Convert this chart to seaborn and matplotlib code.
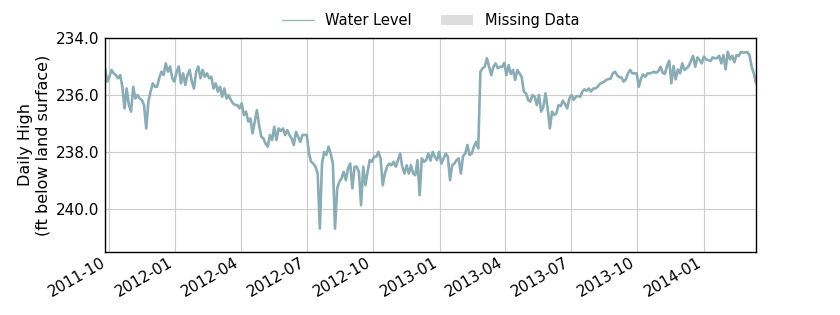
import numpy as np
import pandas as pd
import matplotlib
matplotlib.use("Agg")
import matplotlib.pyplot as plt
import matplotlib.dates as mdates
from matplotlib.lines import Line2D
from matplotlib.patches import Patch
import seaborn as sns

# Daily-high water level (ft below land surface), sampled every 3 days
start_date = "2011-09-26"
step = "3D"

level_2011q4_2012q1 = [
    235.06, 235.53, 235.36, 235.12, 235.24, 235.30, 235.41, 235.30, 235.71, 236.47,
    235.77, 236.35, 236.58, 235.71, 236.12, 236.00, 236.12, 236.18, 236.35, 237.17,
    236.23, 235.88, 235.59, 235.71, 235.71, 235.41, 235.18, 235.30, 234.89, 235.18,
    235.00, 235.41, 235.53, 235.18, 235.00, 235.59, 235.24, 235.65, 235.30, 235.12,
    235.53, 235.77, 235.18, 235.00, 235.41, 235.12, 235.36, 235.24, 235.41, 235.36,
]
level_2012q2_q3 = [
    235.77, 235.59, 235.88, 235.71, 236.06, 235.77, 236.12, 236.00, 236.18, 236.29,
    236.35, 236.35, 236.47, 236.29, 236.70, 236.58, 236.93, 236.82, 237.34, 236.93,
    236.53, 237.05, 237.46, 237.52, 237.70, 237.81, 237.40, 237.58, 237.11, 237.58,
    237.17, 237.26, 237.17, 237.40, 237.23, 237.40, 237.52, 237.75, 237.29, 237.46,
    237.64, 237.40, 237.40, 237.40, 238.05, 238.34, 238.40, 238.51, 238.75, 240.68,
    238.40, 237.99, 238.10, 237.81, 238.05, 238.40, 240.68, 239.27, 239.04, 238.92,
]
level_2012q4_2013q1 = [
    238.69, 238.98, 238.57, 238.40, 239.27, 238.51, 238.51, 238.69, 239.86, 238.51,
    239.16, 238.69, 238.28, 238.34, 238.16, 238.16, 237.99, 238.22, 239.16, 238.75,
    238.51, 238.40, 238.46, 238.34, 238.51, 238.28, 238.05, 238.51, 238.75, 238.46,
    238.75, 238.46, 238.75, 238.81, 238.28, 239.51, 238.22, 238.34, 238.28, 238.05,
    238.30, 237.99, 238.16, 238.28, 237.99, 238.40, 238.22, 238.05, 238.16, 238.98,
    238.46, 238.40, 238.28, 238.22, 238.75, 238.14, 238.05, 237.75, 238.10, 238.05,
    237.81, 237.64, 237.87,
]
level_2013q2_q3 = [
    235.18, 235.06, 235.01, 234.71, 235.01, 235.30, 235.01, 234.89, 235.06, 235.01,
    235.01, 234.87, 235.30, 234.95, 235.26, 235.12, 235.47, 235.12, 235.24, 235.36,
    235.88, 235.94, 236.17, 236.23, 236.00, 236.06, 236.35, 236.00, 236.58, 236.41,
    235.94, 236.47, 237.17, 236.58, 236.70, 236.64, 236.35, 236.39, 236.20, 236.32,
    236.47, 236.12, 236.00, 236.17, 236.06, 236.03, 236.06, 235.88, 235.80, 235.85,
    235.77,
]
level_2013q4_2014q1 = [
    235.88, 235.77, 235.77, 235.71, 235.61, 235.57, 235.53, 235.47, 235.44, 235.42,
    235.24, 235.18, 235.30, 235.38, 235.38, 235.53, 235.45, 235.24, 235.12, 235.24,
    235.24, 235.24, 235.71, 235.42, 235.28, 235.36, 235.24, 235.24, 235.22, 235.18,
    235.22, 235.16, 235.01, 235.22, 235.26, 234.98, 234.80, 235.59, 234.98, 235.45,
    235.10, 235.24, 234.89, 235.12, 235.06, 234.98, 234.81, 234.63, 235.01, 234.68,
    234.77, 234.89, 234.65, 234.75, 234.77, 234.81, 234.68, 234.71, 234.71, 234.62,
    234.89, 234.60, 235.10, 234.48, 234.75, 234.62, 234.85, 234.60, 234.63, 234.49,
    234.51, 234.51, 234.49, 234.60, 235.01, 235.24, 235.59,
]

y_ticks = [234.0, 236.0, 238.0, 240.0]
y_limits = (241.5, 234.0)
legend_labels = ["Water Level", "Missing Data"]
y_label = "Daily High\n(ft below land surface)"

levels = (level_2011q4_2012q1 + level_2012q2_q3 + level_2012q4_2013q1
          + level_2013q2_q3 + level_2013q4_2014q1)
dates = pd.date_range(start_date, periods=len(levels), freq=step)
df = pd.DataFrame({"date": dates, "level": levels})

line_color = "#8AACB4"

sns.set_style("white")
plt.rcParams["font.family"] = ["DejaVu Sans"]
plt.rcParams["text.color"] = "black"
plt.rcParams["axes.labelcolor"] = "black"
plt.rcParams["xtick.color"] = "black"
plt.rcParams["ytick.color"] = "black"

fig = plt.figure(figsize=(8.4, 3.15), dpi=100)
ax = fig.add_axes([0.125, 0.2, 0.775, 0.6794])

sns.lineplot(data=df, x="date", y="level", ax=ax, color=line_color,
             linewidth=1.9, legend=False)

ax.set_xlim(df["date"].iloc[0], df["date"].iloc[-1])
ax.set_ylim(*y_limits)
ax.set_yticks(y_ticks)
ax.yaxis.set_major_formatter(matplotlib.ticker.FormatStrFormatter("%.1f"))
ax.xaxis.set_major_locator(mdates.MonthLocator(bymonth=[1, 4, 7, 10]))
ax.xaxis.set_major_formatter(mdates.DateFormatter("%Y-%m"))

ax.grid(True, color="#cccccc", linewidth=0.8)
ax.set_axisbelow(True)
for s in ax.spines.values():
    s.set_visible(True)
    s.set_color("black")
    s.set_linewidth(1.0)
ax.tick_params(axis="x", length=0, labelsize=11, pad=2)
ax.tick_params(axis="y", length=0, labelsize=11, pad=4)
plt.setp(ax.get_xticklabels(), rotation=30, ha="right")

ax.set_xlabel("")
ax.set_ylabel(y_label, fontsize=11.5, labelpad=4)

handles = [Line2D([0], [0], color="#9DB5BB", linewidth=1.0),
           Patch(facecolor="#dddddd", edgecolor="none")]
fig.legend(handles, legend_labels, loc="upper center", bbox_to_anchor=(0.5125, 1.0),
           ncol=2, frameon=False, fontsize=10.5, handlelength=2.2, columnspacing=2.0)

fig.savefig("out.png", dpi=100)
